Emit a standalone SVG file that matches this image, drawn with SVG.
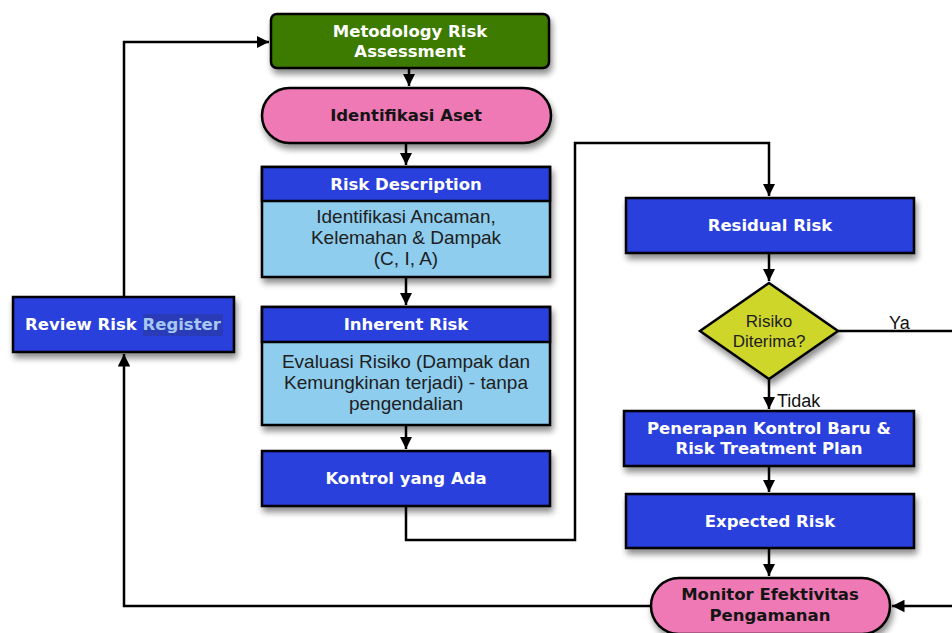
<svg xmlns="http://www.w3.org/2000/svg" width="952" height="633" viewBox="0 0 952 633">
  <style>
    .box { stroke: #000; stroke-width: 2.5; filter: url(#shadow); }
    .blue { fill: #2a3fdc; }
    .light { fill: #8ecdee; }
    .green { fill: #3e7a06; }
    .pink { fill: #ee79b5; }
    .yellow { fill: #cfd62a; }
    .wt { font-family: "DejaVu Sans", "Liberation Sans", sans-serif; font-weight: bold; font-size: 16.5px; fill: #ffffff; text-anchor: middle; }
    .bt { font-family: "DejaVu Sans", "Liberation Sans", sans-serif; font-weight: bold; font-size: 16.5px; fill: #141414; text-anchor: middle; }
    .nt { font-family: "Liberation Sans", Arial, sans-serif; font-size: 19px; fill: #202020; text-anchor: middle; }
    .lbl { font-family: "Liberation Sans", Arial, sans-serif; font-size: 18px; fill: #111; }
    .edge { fill: none; stroke: #000; stroke-width: 2.5; }
  </style>
  <defs>
    <filter id="shadow" x="-10%" y="-20%" width="125%" height="160%">
      <feGaussianBlur in="SourceAlpha" stdDeviation="3"/>
      <feOffset dx="2" dy="5" result="b"/>
      <feComponentTransfer><feFuncA type="linear" slope="0.45"/></feComponentTransfer>
      <feMerge><feMergeNode/><feMergeNode in="SourceGraphic"/></feMerge>
    </filter>
    <marker id="arrow" viewBox="0 0 10 10" refX="10" refY="5" markerWidth="5" markerHeight="5" orient="auto">
      <path d="M0,0 L10,5 L0,10 z" fill="#000"/>
    </marker>
  </defs>

  <rect width="952" height="633" fill="#ffffff"/>

  <g id="connectors">
    <path class="edge" d="M409,68 V86" marker-end="url(#arrow)"/>
    <path class="edge" d="M406,143 V165" marker-end="url(#arrow)"/>
    <path class="edge" d="M406,277 V305" marker-end="url(#arrow)"/>
    <path class="edge" d="M406,425 V449" marker-end="url(#arrow)"/>
    <path class="edge" d="M406,506 V540 H575 V143 H769 V196" marker-end="url(#arrow)"/>
    <path class="edge" d="M769,253 V281" marker-end="url(#arrow)"/>
    <path class="edge" d="M769,379 V409" marker-end="url(#arrow)"/>
    <path class="edge" d="M838,331 H952"/>
    <path class="edge" d="M769,466 V492" marker-end="url(#arrow)"/>
    <path class="edge" d="M769,548 V576" marker-end="url(#arrow)"/>
    <path class="edge" d="M952,606 H892" marker-end="url(#arrow)"/>
    <path class="edge" d="M651,606 H124 V354" marker-end="url(#arrow)"/>
    <path class="edge" d="M124,297 V42 H269" marker-end="url(#arrow)"/>
    <text class="lbl" x="777" y="407">Tidak</text>
    <text class="lbl" x="889" y="329">Ya</text>
  </g>

  <g id="metodology">
    <rect class="box green" x="271" y="14" width="278" height="54" rx="6"/>
    <text class="wt" x="410" y="37">Metodology Risk</text>
    <text class="wt" x="410" y="57">Assessment</text>
  </g>

  <g id="identifikasi-aset">
    <rect class="box pink" x="262" y="88" width="289" height="55" rx="27.5"/>
    <text class="bt" x="406" y="121">Identifikasi Aset</text>
  </g>

  <g id="risk-description">
    <g filter="url(#shadow)">
      <rect class="light" x="262" y="167" width="288" height="110" stroke="#000" stroke-width="2.5"/>
      <rect class="blue" x="262" y="167" width="288" height="34" stroke="#000" stroke-width="2.5"/>
    </g>
    <text class="wt" x="406" y="190">Risk Description</text>
    <text class="nt" x="406" y="223">Identifikasi Ancaman,</text>
    <text class="nt" x="406" y="244">Kelemahan &amp; Dampak</text>
    <text class="nt" x="406" y="265">(C, I, A)</text>
  </g>

  <g id="inherent-risk">
    <g filter="url(#shadow)">
      <rect class="light" x="262" y="307" width="288" height="118" stroke="#000" stroke-width="2.5"/>
      <rect class="blue" x="262" y="307" width="288" height="35" stroke="#000" stroke-width="2.5"/>
    </g>
    <text class="wt" x="406" y="330">Inherent Risk</text>
    <text class="nt" x="406" y="368">Evaluasi Risiko (Dampak dan</text>
    <text class="nt" x="406" y="389">Kemungkinan terjadi) - tanpa</text>
    <text class="nt" x="406" y="410">pengendalian</text>
  </g>

  <g id="kontrol-yang-ada">
    <rect class="box blue" x="262" y="451" width="288" height="55"/>
    <text class="wt" x="406" y="484">Kontrol yang Ada</text>
  </g>

  <g id="review-risk-register">
    <rect class="box blue" x="13" y="297" width="221" height="55"/>
    <rect x="143" y="314" width="80" height="22" fill="#2a3bb8"/>
    <text class="wt" x="123" y="330"><tspan>Review Risk </tspan><tspan fill="#a6c8f0">Register</tspan></text>
  </g>

  <g id="residual-risk">
    <rect class="box blue" x="626" y="198" width="288" height="55"/>
    <text class="wt" x="770" y="231">Residual Risk</text>
  </g>

  <g id="risiko-diterima">
    <polygon class="box yellow" points="769,283 838,331 769,379 700,331"/>
    <text class="nt" x="769" y="327" style="font-size:17px">Risiko</text>
    <text class="nt" x="769" y="347" style="font-size:17px">Diterima?</text>
  </g>

  <g id="penerapan-kontrol">
    <rect class="box blue" x="624" y="411" width="290" height="55"/>
    <text class="wt" x="769" y="434">Penerapan Kontrol Baru &amp;</text>
    <text class="wt" x="769" y="454">Risk Treatment Plan</text>
  </g>

  <g id="expected-risk">
    <rect class="box blue" x="626" y="494" width="288" height="54"/>
    <text class="wt" x="770" y="527">Expected Risk</text>
  </g>

  <g id="monitor-efektivitas">
    <rect class="box pink" x="651" y="578" width="239" height="56" rx="28"/>
    <text class="bt" x="770" y="600">Monitor Efektivitas</text>
    <text class="bt" x="770" y="621">Pengamanan</text>
  </g>
</svg>
